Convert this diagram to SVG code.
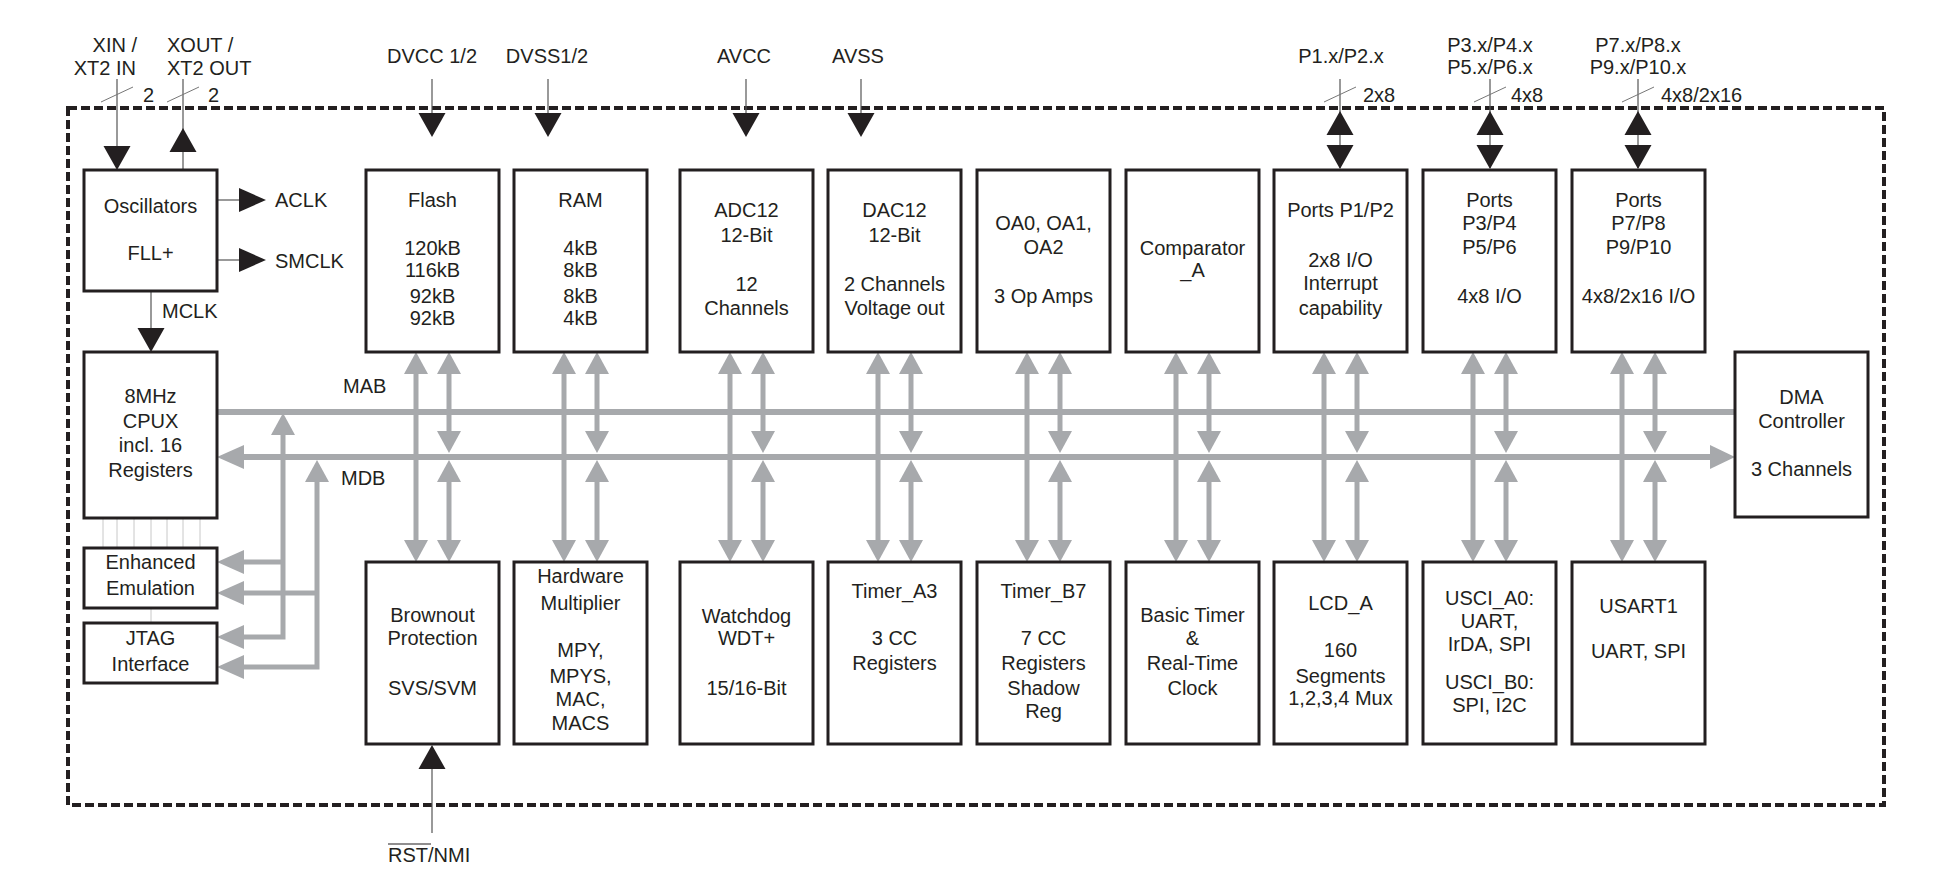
<svg xmlns="http://www.w3.org/2000/svg" xmlns:xlink="http://www.w3.org/1999/xlink" width="1948" height="885" viewBox="0 0 1948 885">
<style>
text{font-family:"Liberation Sans",Arial,sans-serif;font-size:20px;fill:#231f20}
.c{text-anchor:middle}
.e{text-anchor:end}
.box{fill:#fff;stroke:#231f20;stroke-width:3}
.gl{stroke:#a7a9ac;stroke-width:5;fill:none}
.bus{stroke:#a7a9ac;stroke-width:6;fill:none}
.g{fill:#a7a9ac}
.k{fill:#231f20}
.thin{stroke:#555;stroke-width:1.2;fill:none}
.tl{stroke:#c8c8c8;stroke-width:1;fill:none}
.sl{stroke:#777;stroke-width:1;fill:none}
</style>
<defs>
<polygon id="gdn" class="g" points="-12,-22 12,-22 0,0"/>
<polygon id="gup" class="g" points="-12,22 12,22 0,0"/>
<polygon id="glt" class="g" points="27,-12 27,12 0,0"/>
<polygon id="grt" class="g" points="-25,-12 -25,12 0,0"/>
<polygon id="kdn" class="k" points="-13.5,-24 13.5,-24 0,0"/>
<polygon id="kup" class="k" points="-13.5,24 13.5,24 0,0"/>
<polygon id="krt" class="k" points="-27,-12 -27,12 0,0"/>
<g id="col">
<line class="gl" x1="50" y1="372" x2="50" y2="541"/>
<use xlink:href="#gup" x="50" y="352"/>
<use xlink:href="#gdn" x="50" y="562"/>
<line class="gl" x1="83" y1="372" x2="83" y2="433"/>
<use xlink:href="#gup" x="83" y="352"/>
<use xlink:href="#gdn" x="83" y="453"/>
<line class="gl" x1="83" y1="481" x2="83" y2="541"/>
<use xlink:href="#gup" x="83" y="460"/>
<use xlink:href="#gdn" x="83" y="562"/>
</g>
</defs>
<rect x="0" y="0" width="1948" height="885" fill="#fff"/>
<rect x="68" y="108" width="1816" height="697" fill="none" stroke="#231f20" stroke-width="4" stroke-dasharray="9 4"/>

<g id="connectors">
<line class="bus" x1="217" y1="412" x2="1735" y2="412"/>
<line class="bus" x1="243" y1="457" x2="1711" y2="457"/>
<use xlink:href="#glt" x="217" y="457"/>
<use xlink:href="#grt" x="1735" y="457"/>
<use xlink:href="#col" transform="translate(366,0)"/>
<use xlink:href="#col" transform="translate(514,0)"/>
<use xlink:href="#col" transform="translate(680,0)"/>
<use xlink:href="#col" transform="translate(828,0)"/>
<use xlink:href="#col" transform="translate(977,0)"/>
<use xlink:href="#col" transform="translate(1126,0)"/>
<use xlink:href="#col" transform="translate(1274,0)"/>
<use xlink:href="#col" transform="translate(1423,0)"/>
<use xlink:href="#col" transform="translate(1572,0)"/>
<polyline class="gl" points="283,433 283,637 243,637"/>
<line class="gl" x1="283" y1="562" x2="243" y2="562"/>
<use xlink:href="#gup" x="283" y="413"/>
<polyline class="gl" points="317,479 317,667 243,667"/>
<line class="gl" x1="317" y1="593" x2="243" y2="593"/>
<use xlink:href="#gup" x="317" y="460"/>
<use xlink:href="#glt" x="217" y="562"/>
<use xlink:href="#glt" x="217" y="593"/>
<use xlink:href="#glt" x="217" y="637"/>
<use xlink:href="#glt" x="217" y="667"/>
<g class="tl">
<line x1="103" y1="518" x2="103" y2="548"/>
<line x1="117" y1="518" x2="117" y2="548"/>
<line x1="134" y1="518" x2="134" y2="548"/>
<line x1="151" y1="518" x2="151" y2="548"/>
<line x1="167" y1="518" x2="167" y2="548"/>
<line x1="183" y1="518" x2="183" y2="548"/>
<line x1="200" y1="518" x2="200" y2="548"/>
<line x1="151" y1="608" x2="151" y2="623"/>
</g>
<line class="thin" x1="117" y1="79" x2="117" y2="147"/>
<use xlink:href="#kdn" x="117" y="170"/>
<line class="thin" x1="183" y1="79" x2="183" y2="170"/>
<use xlink:href="#kup" x="183" y="128"/>
<line class="sl" x1="101" y1="102" x2="133" y2="87"/>
<line class="sl" x1="167" y1="102" x2="199" y2="87"/>
<line class="thin" x1="432" y1="79" x2="432" y2="115"/>
<use xlink:href="#kdn" x="432" y="137"/>
<line class="thin" x1="548" y1="79" x2="548" y2="115"/>
<use xlink:href="#kdn" x="548" y="137"/>
<line class="thin" x1="746" y1="79" x2="746" y2="115"/>
<use xlink:href="#kdn" x="746" y="137"/>
<line class="thin" x1="861" y1="79" x2="861" y2="115"/>
<use xlink:href="#kdn" x="861" y="137"/>
<line class="thin" x1="1340" y1="79" x2="1340" y2="168"/>
<use xlink:href="#kup" x="1340" y="111"/>
<use xlink:href="#kdn" x="1340" y="169"/>
<line class="sl" x1="1324" y1="102" x2="1356" y2="87"/>
<line class="thin" x1="1490" y1="79" x2="1490" y2="168"/>
<use xlink:href="#kup" x="1490" y="111"/>
<use xlink:href="#kdn" x="1490" y="169"/>
<line class="sl" x1="1474" y1="102" x2="1506" y2="87"/>
<line class="thin" x1="1638" y1="79" x2="1638" y2="168"/>
<use xlink:href="#kup" x="1638" y="111"/>
<use xlink:href="#kdn" x="1638" y="169"/>
<line class="sl" x1="1622" y1="102" x2="1654" y2="87"/>
<line class="thin" x1="217" y1="200" x2="241" y2="200"/>
<use xlink:href="#krt" x="266" y="200"/>
<line class="thin" x1="217" y1="260" x2="241" y2="260"/>
<use xlink:href="#krt" x="266" y="260"/>
<line class="thin" x1="151" y1="291" x2="151" y2="330"/>
<use xlink:href="#kdn" x="151" y="352"/>
<line class="thin" x1="432" y1="767" x2="432" y2="833"/>
<use xlink:href="#kup" x="432" y="745"/>
</g>

<g id="labels">
<text class="e" x="137" y="52">XIN /</text>
<text class="e" x="136" y="75">XT2 IN</text>
<text x="167" y="52">XOUT /</text>
<text x="167" y="75">XT2 OUT</text>
<text x="143" y="102">2</text>
<text x="208" y="102">2</text>
<text class="c" x="432" y="63">DVCC 1/2</text>
<text class="c" x="547" y="63">DVSS1/2</text>
<text class="c" x="744" y="63">AVCC</text>
<text class="c" x="858" y="63">AVSS</text>
<text class="c" x="1341" y="63">P1.x/P2.x</text>
<text x="1363" y="102">2x8</text>
<text class="c" x="1490" y="52">P3.x/P4.x</text>
<text class="c" x="1490" y="74">P5.x/P6.x</text>
<text x="1511" y="102">4x8</text>
<text class="c" x="1638" y="52">P7.x/P8.x</text>
<text class="c" x="1638" y="74">P9.x/P10.x</text>
<text x="1661" y="102">4x8/2x16</text>
<text x="275" y="207">ACLK</text>
<text x="275" y="268">SMCLK</text>
<text x="162" y="318">MCLK</text>
<text x="343" y="393">MAB</text>
<text x="341" y="485">MDB</text>
<text x="388" y="862">RST/NMI</text>
<line x1="388" y1="844" x2="431" y2="844" stroke="#231f20" stroke-width="1.2"/>
</g>

<g id="osc"><rect class="box" x="84" y="170" width="133" height="121"/>
<text class="c" x="150.5" y="213">Oscillators</text><text class="c" x="150.5" y="260">FLL+</text></g>
<g id="cpu"><rect class="box" x="84" y="352" width="133" height="166"/>
<text class="c" x="150.5" y="403">8MHz</text><text class="c" x="150.5" y="428">CPUX</text><text class="c" x="150.5" y="452">incl. 16</text><text class="c" x="150.5" y="477">Registers</text></g>
<g id="emu"><rect class="box" x="84" y="548" width="133" height="60"/>
<text class="c" x="150.5" y="569">Enhanced</text><text class="c" x="150.5" y="595">Emulation</text></g>
<g id="jtag"><rect class="box" x="84" y="623" width="133" height="60"/>
<text class="c" x="150.5" y="645">JTAG</text><text class="c" x="150.5" y="671">Interface</text></g>
<g id="dma"><rect class="box" x="1735" y="352" width="133" height="165"/>
<text class="c" x="1801.5" y="404">DMA</text><text class="c" x="1801.5" y="428">Controller</text><text class="c" x="1801.5" y="476">3 Channels</text></g>

<g id="flash"><rect class="box" x="366" y="170" width="133" height="182"/>
<text class="c" x="432.5" y="207">Flash</text><text class="c" x="432.5" y="255">120kB</text><text class="c" x="432.5" y="277">116kB</text><text class="c" x="432.5" y="303">92kB</text><text class="c" x="432.5" y="325">92kB</text></g>
<g id="ram"><rect class="box" x="514" y="170" width="133" height="182"/>
<text class="c" x="580.5" y="207">RAM</text><text class="c" x="580.5" y="255">4kB</text><text class="c" x="580.5" y="277">8kB</text><text class="c" x="580.5" y="303">8kB</text><text class="c" x="580.5" y="325">4kB</text></g>
<g id="adc"><rect class="box" x="680" y="170" width="133" height="182"/>
<text class="c" x="746.5" y="217">ADC12</text><text class="c" x="746.5" y="242">12-Bit</text><text class="c" x="746.5" y="291">12</text><text class="c" x="746.5" y="315">Channels</text></g>
<g id="dac"><rect class="box" x="828" y="170" width="133" height="182"/>
<text class="c" x="894.5" y="217">DAC12</text><text class="c" x="894.5" y="242">12-Bit</text><text class="c" x="894.5" y="291">2 Channels</text><text class="c" x="894.5" y="315">Voltage out</text></g>
<g id="oa"><rect class="box" x="977" y="170" width="133" height="182"/>
<text class="c" x="1043.5" y="230">OA0, OA1,</text><text class="c" x="1043.5" y="254">OA2</text><text class="c" x="1043.5" y="303">3 Op Amps</text></g>
<g id="comp"><rect class="box" x="1126" y="170" width="133" height="182"/>
<text class="c" x="1192.5" y="255">Comparator</text><text class="c" x="1192.5" y="277">_A</text></g>
<g id="p12"><rect class="box" x="1274" y="170" width="133" height="182"/>
<text class="c" x="1340.5" y="217">Ports P1/P2</text><text class="c" x="1340.5" y="267">2x8 I/O</text><text class="c" x="1340.5" y="290">Interrupt</text><text class="c" x="1340.5" y="315">capability</text></g>
<g id="p36"><rect class="box" x="1423" y="170" width="133" height="182"/>
<text class="c" x="1489.5" y="207">Ports</text><text class="c" x="1489.5" y="230">P3/P4</text><text class="c" x="1489.5" y="254">P5/P6</text><text class="c" x="1489.5" y="303">4x8 I/O</text></g>
<g id="p710"><rect class="box" x="1572" y="170" width="133" height="182"/>
<text class="c" x="1638.5" y="207">Ports</text><text class="c" x="1638.5" y="230">P7/P8</text><text class="c" x="1638.5" y="254">P9/P10</text><text class="c" x="1638.5" y="303">4x8/2x16 I/O</text></g>

<g id="brownout"><rect class="box" x="366" y="562" width="133" height="182"/>
<text class="c" x="432.5" y="622">Brownout</text><text class="c" x="432.5" y="645">Protection</text><text class="c" x="432.5" y="695">SVS/SVM</text></g>
<g id="hwmult"><rect class="box" x="514" y="562" width="133" height="182"/>
<text class="c" x="580.5" y="583">Hardware</text><text class="c" x="580.5" y="610">Multiplier</text><text class="c" x="580.5" y="657">MPY,</text><text class="c" x="580.5" y="683">MPYS,</text><text class="c" x="580.5" y="706">MAC,</text><text class="c" x="580.5" y="730">MACS</text></g>
<g id="wdt"><rect class="box" x="680" y="562" width="133" height="182"/>
<text class="c" x="746.5" y="623">Watchdog</text><text class="c" x="746.5" y="645">WDT+</text><text class="c" x="746.5" y="695">15/16-Bit</text></g>
<g id="ta3"><rect class="box" x="828" y="562" width="133" height="182"/>
<text class="c" x="894.5" y="598">Timer_A3</text><text class="c" x="894.5" y="645">3 CC</text><text class="c" x="894.5" y="670">Registers</text></g>
<g id="tb7"><rect class="box" x="977" y="562" width="133" height="182"/>
<text class="c" x="1043.5" y="598">Timer_B7</text><text class="c" x="1043.5" y="645">7 CC</text><text class="c" x="1043.5" y="670">Registers</text><text class="c" x="1043.5" y="695">Shadow</text><text class="c" x="1043.5" y="718">Reg</text></g>
<g id="bt"><rect class="box" x="1126" y="562" width="133" height="182"/>
<text class="c" x="1192.5" y="622">Basic Timer</text><text class="c" x="1192.5" y="645">&amp;</text><text class="c" x="1192.5" y="670">Real-Time</text><text class="c" x="1192.5" y="695">Clock</text></g>
<g id="lcd"><rect class="box" x="1274" y="562" width="133" height="182"/>
<text class="c" x="1340.5" y="610">LCD_A</text><text class="c" x="1340.5" y="657">160</text><text class="c" x="1340.5" y="683">Segments</text><text class="c" x="1340.5" y="705">1,2,3,4 Mux</text></g>
<g id="usci"><rect class="box" x="1423" y="562" width="133" height="182"/>
<text class="c" x="1489.5" y="605">USCI_A0:</text><text class="c" x="1489.5" y="628">UART,</text><text class="c" x="1489.5" y="651">IrDA, SPI</text><text class="c" x="1489.5" y="689">USCI_B0:</text><text class="c" x="1489.5" y="712">SPI, I2C</text></g>
<g id="usart1"><rect class="box" x="1572" y="562" width="133" height="182"/>
<text class="c" x="1638.5" y="613">USART1</text><text class="c" x="1638.5" y="658">UART, SPI</text></g>
</svg>
